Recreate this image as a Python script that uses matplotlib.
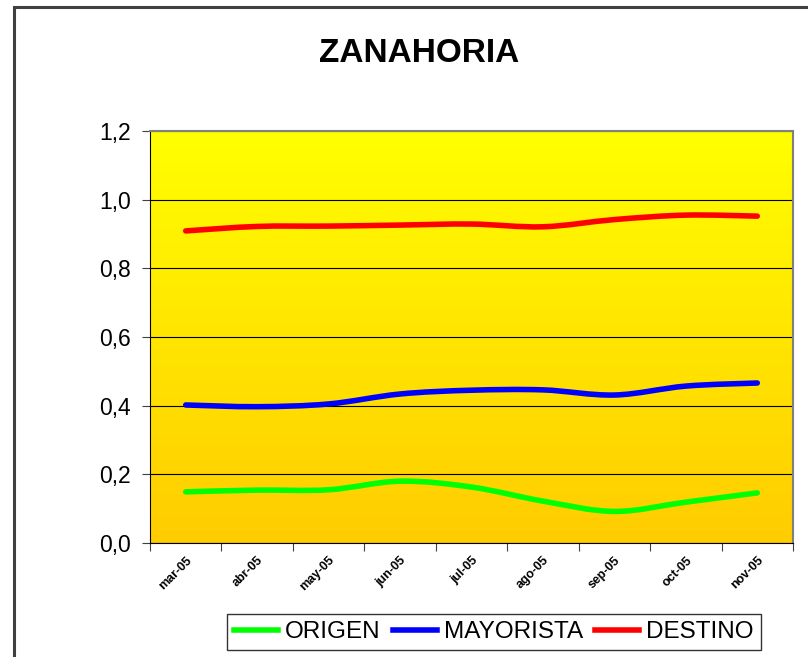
import numpy as np
import matplotlib
matplotlib.use("Agg")
import matplotlib.pyplot as plt
from matplotlib.path import Path
from matplotlib.patches import PathPatch, Rectangle
from matplotlib.lines import Line2D
from matplotlib.transforms import ScaledTranslation

plt.rcParams['font.family'] = ['Liberation Sans', 'DejaVu Sans']

meses = ['mar-05', 'abr-05', 'may-05', 'jun-05', 'jul-05',
         'ago-05', 'sep-05', 'oct-05', 'nov-05']
origen = [0.149, 0.154, 0.155, 0.180, 0.163, 0.122, 0.092, 0.119, 0.146]
mayorista = [0.402, 0.397, 0.405, 0.434, 0.445, 0.446, 0.431, 0.457, 0.466]
destino = [0.909, 0.922, 0.923, 0.926, 0.929, 0.921, 0.942, 0.955, 0.952]

series = [('ORIGEN', origen, '#00FF00'),
          ('MAYORISTA', mayorista, '#0000FF'),
          ('DESTINO', destino, '#FF0000')]


def smooth_path(x, y):
    # Catmull-Rom style bezier segments, like spreadsheet "smoothed line"
    x = np.asarray(x, float)
    y = np.asarray(y, float)
    verts = [(x[0], y[0])]
    codes = [Path.MOVETO]
    n = len(x)
    for i in range(n - 1):
        p0 = (x[max(i - 1, 0)], y[max(i - 1, 0)])
        p1 = (x[i], y[i])
        p2 = (x[i + 1], y[i + 1])
        p3 = (x[min(i + 2, n - 1)], y[min(i + 2, n - 1)])
        c1 = (p1[0] + (p2[0] - p0[0]) / 6, p1[1] + (p2[1] - p0[1]) / 6)
        c2 = (p2[0] - (p3[0] - p1[0]) / 6, p2[1] - (p3[1] - p1[1]) / 6)
        verts += [c1, c2, p2]
        codes += [Path.CURVE4] * 3
    return Path(verts, codes)


fig = plt.figure(figsize=(8.08, 6.57), dpi=100)
fig.patches.append(Rectangle((14 / 808, -0.1), 1.1, 1.1 - 7 / 657,
                             transform=fig.transFigure, fill=False,
                             edgecolor='#404040', linewidth=2.2))
ax = fig.add_axes([150 / 808, 1 - 543 / 657, 643 / 808, 412 / 657])

# vertical yellow-to-orange fill of the plot area
grad = np.linspace(0, 1, 256).reshape(-1, 1)
cmap = matplotlib.colors.LinearSegmentedColormap.from_list(
    'fondo', ['#FFCC00', '#FFFF00'])
ax.imshow(grad, cmap=cmap, aspect='auto', origin='lower',
          extent=[0, 1, 0, 1], transform=ax.transAxes, zorder=0)

xs = np.arange(len(meses)) + 0.5
for nombre, vals, color in series:
    ax.add_patch(PathPatch(smooth_path(xs, vals), fill=False, edgecolor=color,
                           linewidth=4, capstyle='round', zorder=3))

ax.set_xlim(0, len(meses))
ax.set_ylim(0, 1.2)
ax.set_yticks(np.arange(0, 1.21, 0.2))
ax.set_yticklabels([f'{v:.1f}'.replace('.', ',') for v in np.arange(0, 1.21, 0.2)],
                   fontsize=16.5)
ax.set_xticks(np.arange(len(meses) + 1))
ax.set_xticklabels([])
ax.set_xticks(xs, minor=True)
ax.set_xticklabels(meses, minor=True, rotation=45, ha='right',
                   rotation_mode='anchor', fontsize=9, fontweight='bold')
shift = ScaledTranslation(-6 / 100, 0, fig.dpi_scale_trans)
for lbl in ax.get_xticklabels(minor=True):
    lbl.set_transform(lbl.get_transform() + shift)
ax.tick_params(axis='x', which='minor', length=0, pad=8)
ax.tick_params(axis='x', which='major', length=6, color='#404040')
ax.tick_params(axis='y', length=6, color='#404040', pad=8)
ax.yaxis.grid(True, color='black', linewidth=0.8)
ax.set_axisbelow(True)
for g in ax.get_ygridlines():
    g.set_zorder(1)

for s in ['top', 'right']:
    ax.spines[s].set_color('#808080')
    ax.spines[s].set_linewidth(1.5)
ax.spines['left'].set_color('black')
ax.spines['bottom'].set_color('black')

fig.text(419 / 808, 1 - 54 / 657, 'ZANAHORIA', ha='center', va='center',
         fontsize=24, fontweight='bold')

handles = [Line2D([], [], color=c, linewidth=4) for _, _, c in series]
leg = fig.legend(handles, [n for n, _, _ in series], loc='center',
                 bbox_to_anchor=(494 / 808, 1 - 632 / 657), ncol=3,
                 fontsize=17.5, frameon=True, fancybox=False, handlelength=1.8,
                 handletextpad=0.3, columnspacing=0.5, borderpad=0.3)
leg.get_frame().set_edgecolor('black')
leg.get_frame().set_linewidth(1)

fig.savefig('out.png', dpi=100, facecolor='white')
